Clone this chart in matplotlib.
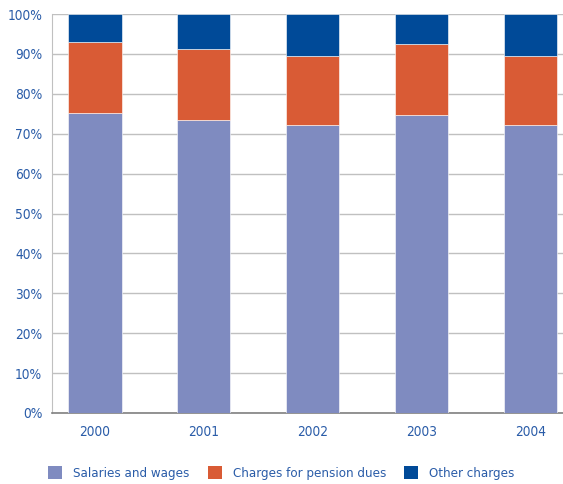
import numpy as np
import matplotlib.pyplot as plt
from matplotlib.patches import Patch

years = ['2000', '2001', '2002', '2003', '2004']
salaries = [75.2, 73.4, 72.1, 74.6, 72.1]
pension = [17.9, 17.9, 17.3, 18.0, 17.3]
other = [6.9, 8.7, 10.6, 7.4, 10.6]

series_names = ['Salaries and wages', 'Charges for pension dues', 'Other charges']
colors = ['#7f8bc0', '#d95b35', '#004a98']
text_color = '#2a5ca8'

plt.rcParams['font.family'] = ['DejaVu Sans']
plt.rcParams['font.stretch'] = 'condensed'

fig = plt.figure(figsize=(5.63, 4.84), dpi=100)
ax = fig.add_axes([52 / 563, 71 / 484, 1 - 52 / 563, 399 / 484])

x = np.arange(len(years))
w = 0.49
bottom = np.zeros(len(years))
for vals, c in zip([salaries, pension, other], colors):
    ax.bar(x, vals, w, bottom=bottom, color=c, edgecolor='white', linewidth=0.4, zorder=3)
    bottom += np.array(vals)

ax.set_ylim(0, 100)
ax.set_xlim(-0.395, 4.3)
ax.set_yticks(np.arange(0, 101, 10))
ax.set_yticklabels([f'{v}%' for v in range(0, 101, 10)])
ax.set_xticks(x)
ax.set_xticklabels(years)
ax.tick_params(axis='both', colors=text_color, labelsize=9.8, length=0)
ax.tick_params(axis='x', pad=9)
ax.tick_params(axis='y', pad=7)
ax.grid(axis='y', color='#c0c0c0', linewidth=1, zorder=0)
for s in ['top', 'right']:
    ax.spines[s].set_visible(False)
ax.spines['left'].set_color('#c0c0c0')
ax.spines['bottom'].set_color('#808080')
ax.spines['bottom'].set_linewidth(1.2)

# legend items placed one by one, like the reference
legend_x = [48 / 563, 208 / 563, 404 / 563]
for name, c, lx in zip(series_names, colors, legend_x):
    fig.legend([Patch(facecolor=c)], [name], loc='center left', bbox_to_anchor=(lx, 11 / 484),
               frameon=False, fontsize=9.5, labelcolor=text_color, borderpad=0,
               borderaxespad=0, handlelength=1.06, handleheight=1.15, handletextpad=0.83)

fig.savefig('out.png', dpi=100)
